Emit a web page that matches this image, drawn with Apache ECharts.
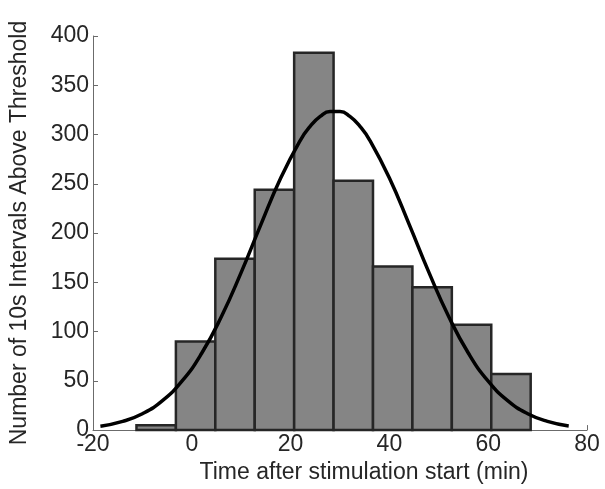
<!DOCTYPE html>
<html>
<head>
<meta charset="utf-8">
<script src="https://cdn.jsdelivr.net/npm/echarts@6/dist/echarts.min.js"></script>
<style>
	html, body { margin: 0; padding: 0; background: #fff; }
	#main { width: 605px; height: 489px; }
</style>
</head>
<body>
<div id="main"></div>
<script>
	// histogram bins (minutes) and counts
	var binEdges = [-11.2, -3.22, 4.76, 12.74, 20.72, 28.7, 36.68, 44.66, 52.64, 60.62, 68.6];
	var counts = [5, 90, 174, 244, 383, 253, 166, 145, 107, 57];

	// fitted normal curve
	var curveX = [-18.5, -14, -10, -6, -2, 2, 6, 10, 14, 18, 22, 24, 26, 28, 30, 32, 34, 36, 40, 44, 48, 52, 56, 60, 64, 68, 72, 76.3];
	var curveY = [3.9, 8.8, 16.6, 29.6, 49.6, 78, 115.3, 160.1, 208.8, 255.8, 294.4, 308.5, 318.4, 323.4, 323.4, 318.4, 308.5, 294.4, 255.8, 208.8, 160.1, 115.3, 78, 49.6, 29.6, 16.6, 8.8, 4.1];

	var xTicks = { min: -20, max: 80, interval: 20 };
	var yTicks = { min: 0, max: 400, interval: 50 };

	var font = '"Liberation Sans", Arial, sans-serif';
	var txt = '#262626';

	var barData = [];
	for (var i = 0; i < counts.length; i++) {
		barData.push([binEdges[i], binEdges[i + 1], counts[i]]);
	}
	var lineData = [];
	for (var j = 0; j < curveX.length; j++) {
		lineData.push([curveX[j], curveY[j]]);
	}

	var myChart = echarts.init(document.getElementById('main'));
	var option = {
		animation: false,
		backgroundColor: '#fff',
		grid: { left: 86, right: 18, top: 36, bottom: 55 },
		xAxis: {
			type: 'value',
			min: xTicks.min, max: xTicks.max, interval: xTicks.interval,
			name: 'Time after stimulation start (min)',
			nameLocation: 'middle',
			nameGap: 22,
			nameTextStyle: { fontFamily: font, fontSize: 23, color: txt, verticalAlign: 'top', padding: [0, 0, 0, 48] },
			axisLine: { onZero: false, lineStyle: { color: '#6b6b6b', width: 1 } },
			axisTick: { inside: true, length: 5, lineStyle: { color: '#6b6b6b' } },
			axisLabel: { fontFamily: font, fontSize: 23, color: txt, margin: 3 },
			splitLine: { show: false }
		},
		yAxis: {
			type: 'value',
			min: yTicks.min, max: yTicks.max, interval: yTicks.interval,
			name: 'Number of 10s Intervals Above Threshold',
			nameLocation: 'middle',
			nameGap: 62,
			nameRotate: 90,
			nameTextStyle: { fontFamily: font, fontSize: 23, color: txt },
			axisLine: { show: true, onZero: false, lineStyle: { color: '#6b6b6b', width: 1 } },
			axisTick: { show: true, inside: true, length: 5, lineStyle: { color: '#6b6b6b' } },
			axisLabel: { fontFamily: font, fontSize: 23, color: txt, margin: 4 },
			splitLine: { show: false }
		},
		series: [
			{
				type: 'custom',
				data: barData,
				encode: { x: [0, 1], y: 2 },
				renderItem: function (params, api) {
					var p0 = api.coord([api.value(0), api.value(2)]);
					var p1 = api.coord([api.value(1), 0]);
					return {
						type: 'rect',
						shape: { x: p0[0], y: p0[1], width: p1[0] - p0[0], height: p1[1] - p0[1] },
						style: { fill: '#858585', stroke: '#262626', lineWidth: 2.5 }
					};
				},
				z: 2
			},
			{
				type: 'line',
				data: lineData,
				smooth: true,
				showSymbol: false,
				lineStyle: { color: '#000', width: 3.5 },
				z: 3
			}
		]
	};
	myChart.setOption(option);
</script>
</body>
</html>
